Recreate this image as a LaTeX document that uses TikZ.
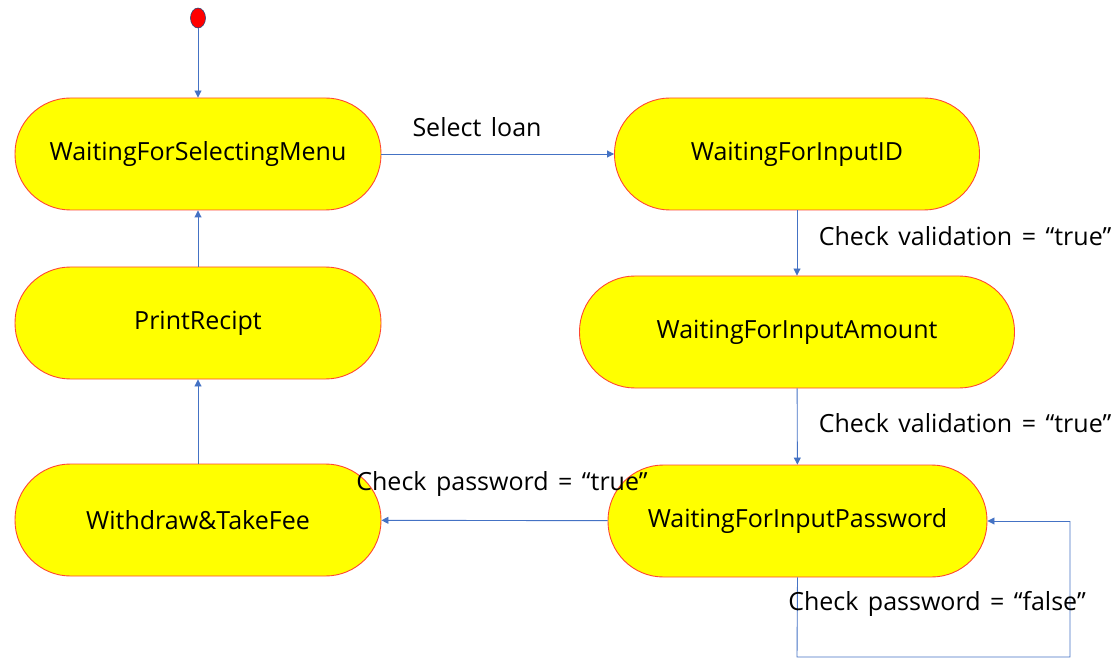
\documentclass[tikz,border=0pt]{standalone}
\usepackage{fontspec}
\setmainfont{Open Sans}
\usetikzlibrary{arrows.meta,shapes.geometric}
\definecolor{stfill}{RGB}{255,255,0}
\definecolor{stdraw}{RGB}{255,70,50}
\definecolor{arr}{RGB}{68,114,196}
\newcommand\lblfontsetup{\fontsize{25}{29}\selectfont\spaceskip=0.38em\relax}
\begin{document}
\begin{tikzpicture}[x=1pt,y=-1pt,
  state/.style={draw=stdraw, fill=stfill, line width=0.9pt, rounded corners=55.5pt,
    minimum height=112pt, inner sep=0pt, font=\fontsize{25}{29}\selectfont, text=black},
  conn/.style={draw=arr, line width=0.9pt, -{Triangle[length=7pt,width=7pt]}},
  plainline/.style={draw=arr, line width=0.9pt},
  lbl/.style={font=\lblfontsetup, inner sep=0pt, text=black}]
\path[use as bounding box] (0,0) rectangle (1119,660);
\node[draw=arr!60!black, fill=red, ellipse, minimum width=15pt, minimum height=20pt, inner sep=0pt, line width=0.6pt] (init) at (198,18) {};
\node[state, minimum width=366pt] (menu) at (198,154) {WaitingForSelectingMenu};
\node[state, minimum width=366pt] (print) at (198,323) {PrintRecipt};
\node[state, minimum width=366pt] (fee) at (198,520) {Withdraw\&TakeFee};
\node[state, minimum width=365pt] (id) at (797,154) {WaitingForInputID};
\node[state, minimum width=435pt] (amount) at (797,332) {WaitingForInputAmount};
\node[state, minimum width=379pt] (pw) at (797.5,521) {WaitingForInputPassword};
\coordinate (l1) at (797,657);
\coordinate (l2) at (1070,657);
\coordinate (l3) at (1070,521);
\draw[conn] (init) -- (menu);
\draw[conn] (menu) -- (id);
\draw[conn] (id) -- (amount);
\draw[conn] (amount) -- (pw);
\draw[conn] (pw) -- (fee);
\draw[conn] (fee) -- (print);
\draw[conn] (print) -- (menu);
\draw[plainline] (pw.south) -- (l1) -- (l2) -- (l3);
\draw[conn] (l3) -- (pw.east);
\node[lbl] (t1) at (477,127) {Select loan};
\node[lbl] (t2) at (965,236) {Check validation = “true”};
\node[lbl] (t3) at (965,423) {Check validation = “true”};
\node[lbl] (t4) at (502,484) {Check password = “true”};
\node[lbl] (t5) at (937,604) {Check password = “false”};
\end{tikzpicture}
\end{document}
